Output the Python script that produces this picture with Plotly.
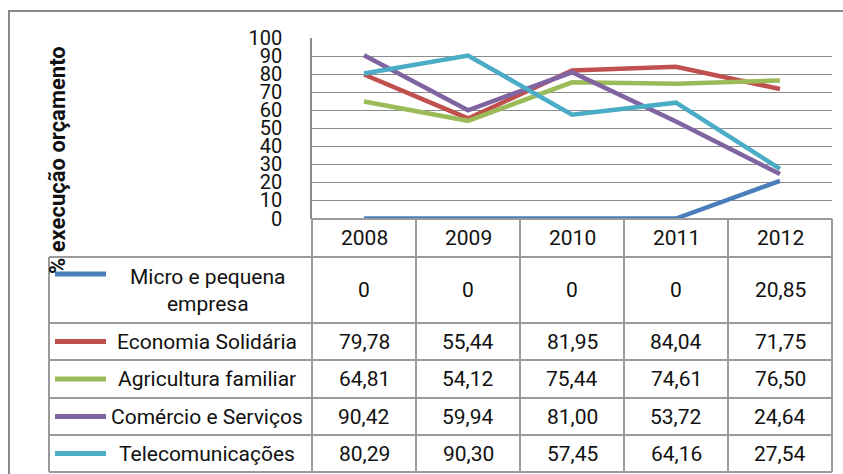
import plotly.graph_objects as go

years = ["2008", "2009", "2010", "2011", "2012"]
series_names = ["Micro e pequena<br>empresa", "Economia Solidária", "Agricultura familiar",
                "Comércio e Serviços", "Telecomunicações"]
micro = [0, 0, 0, 0, 20.85]
economia = [79.78, 55.44, 81.95, 84.04, 71.75]
agricultura = [64.81, 54.12, 75.44, 74.61, 76.50]
comercio = [90.42, 59.94, 81.00, 53.72, 24.64]
telecom = [80.29, 90.30, 57.45, 64.16, 27.54]
series_values = [micro, economia, agricultura, comercio, telecom]
colors = ["#4A7EBB", "#C0504D", "#9BBB59", "#8064A2", "#4BACC6"]
y_ticks = [0, 10, 20, 30, 40, 50, 60, 70, 80, 90, 100]
y_title = "% execução orçamento"

W, H = 843, 474
def px(x):
    return x / W
def py(y):
    return 1 - y / H

FONT = "Roboto"
GRID = "#8c8c8c"
TBL = "#9a9a9a"
TXT = "#111111"
TS = 21

fig = go.Figure()
for name, vals, col in zip(series_names, series_values, colors):
    fig.add_trace(go.Scatter(x=list(range(len(years))), y=vals, mode="lines",
                             line=dict(color=col, width=4.5), name=name,
                             showlegend=False, hoverinfo="skip"))

x_left, x_right = 312, 832
y_top, y_zero = 38, 218.5

fig.update_layout(
    width=W, height=H,
    margin=dict(l=0, r=0, t=0, b=0, pad=0, autoexpand=False),
    paper_bgcolor="white", plot_bgcolor="white",
    xaxis=dict(domain=[px(x_left), px(x_right)], range=[-0.5, 4.5],
               showgrid=False, showticklabels=False, zeroline=False,
               showline=False, fixedrange=True, automargin=False),
    yaxis=dict(domain=[py(y_zero), py(y_top)], range=[0, 100],
               tickvals=y_ticks, ticktext=[str(t) for t in y_ticks],
               showgrid=True, gridcolor=GRID, gridwidth=1.3,
               zeroline=False, showline=True, linecolor=GRID, linewidth=1.5,
               ticks="", ticklabelstandoff=24, automargin=False,
               tickfont=dict(family=FONT, size=20, color=TXT),
               fixedrange=True),
    font=dict(family=FONT, color=TXT),
)

shapes = []
ann = []
shapes.append(dict(type="line", xref="paper", yref="paper", x0=px(8), x1=px(843),
                   y0=py(11), y1=py(11), line=dict(color="#8a8a8a", width=2)))
shapes.append(dict(type="line", xref="paper", yref="paper", x0=px(9), x1=px(9),
                   y0=py(11), y1=py(474), line=dict(color="#8a8a8a", width=2)))

col_edges = [312, 416, 520, 624, 728, 832]
leg_left = 49
row_edges = [219, 257, 323, 360, 398, 435, 472]

shapes.append(dict(type="line", xref="paper", yref="paper", x0=px(312), x1=px(832),
                   y0=py(row_edges[0]), y1=py(row_edges[0]), line=dict(color=TBL, width=2)))
for ry in row_edges[1:]:
    shapes.append(dict(type="line", xref="paper", yref="paper", x0=px(leg_left), x1=px(832),
                       y0=py(ry), y1=py(ry), line=dict(color=TBL, width=2)))
shapes.append(dict(type="line", xref="paper", yref="paper", x0=px(leg_left), x1=px(leg_left),
                   y0=py(row_edges[1]), y1=py(row_edges[-1]), line=dict(color=TBL, width=2)))
for cx in col_edges:
    shapes.append(dict(type="line", xref="paper", yref="paper", x0=px(cx), x1=px(cx),
                       y0=py(row_edges[0]), y1=py(row_edges[-1]), line=dict(color=TBL, width=2)))

for i, yr in enumerate(years):
    ann.append(dict(x=i, xref="x", y=py((row_edges[0] + row_edges[1]) / 2), yref="paper",
                    xanchor="center", yanchor="middle",
                    text=yr, showarrow=False, font=dict(family=FONT, size=TS, color=TXT)))

def fmt(v):
    if v == 0:
        return "0"
    return f"{v:.2f}".replace(".", ",")

for r, (name, vals, col) in enumerate(zip(series_names, series_values, colors)):
    top, bot = row_edges[r + 1], row_edges[r + 2]
    cy = (top + bot) / 2
    line_y = cy if r > 0 else top + 17
    shapes.append(dict(type="line", xref="paper", yref="paper", x0=px(55), x1=px(106),
                       y0=py(line_y), y1=py(line_y), line=dict(color=col, width=5)))
    ann.append(dict(x=px(207), xref="paper", y=py(cy), yref="paper", text=name,
                    xanchor="center", yanchor="middle",
                    showarrow=False, align="center",
                    font=dict(family=FONT, size=TS, color=TXT)))
    for i, v in enumerate(vals):
        ann.append(dict(x=i, xref="x", y=py(cy), yref="paper", text=fmt(v),
                        xanchor="center", yanchor="middle",
                        showarrow=False, font=dict(family=FONT, size=TS, color=TXT)))

ann.append(dict(x=px(57), xref="paper", y=py(160), yref="paper", text="<b>" + y_title + "</b>",
                xanchor="center", yanchor="middle",
                textangle=-90, showarrow=False, font=dict(family=FONT, size=22, color=TXT)))

fig.update_layout(shapes=shapes, annotations=ann)
fig.write_html("out.html", config={"displayModeBar": False},
               post_script="document.body.style.margin='0';")
